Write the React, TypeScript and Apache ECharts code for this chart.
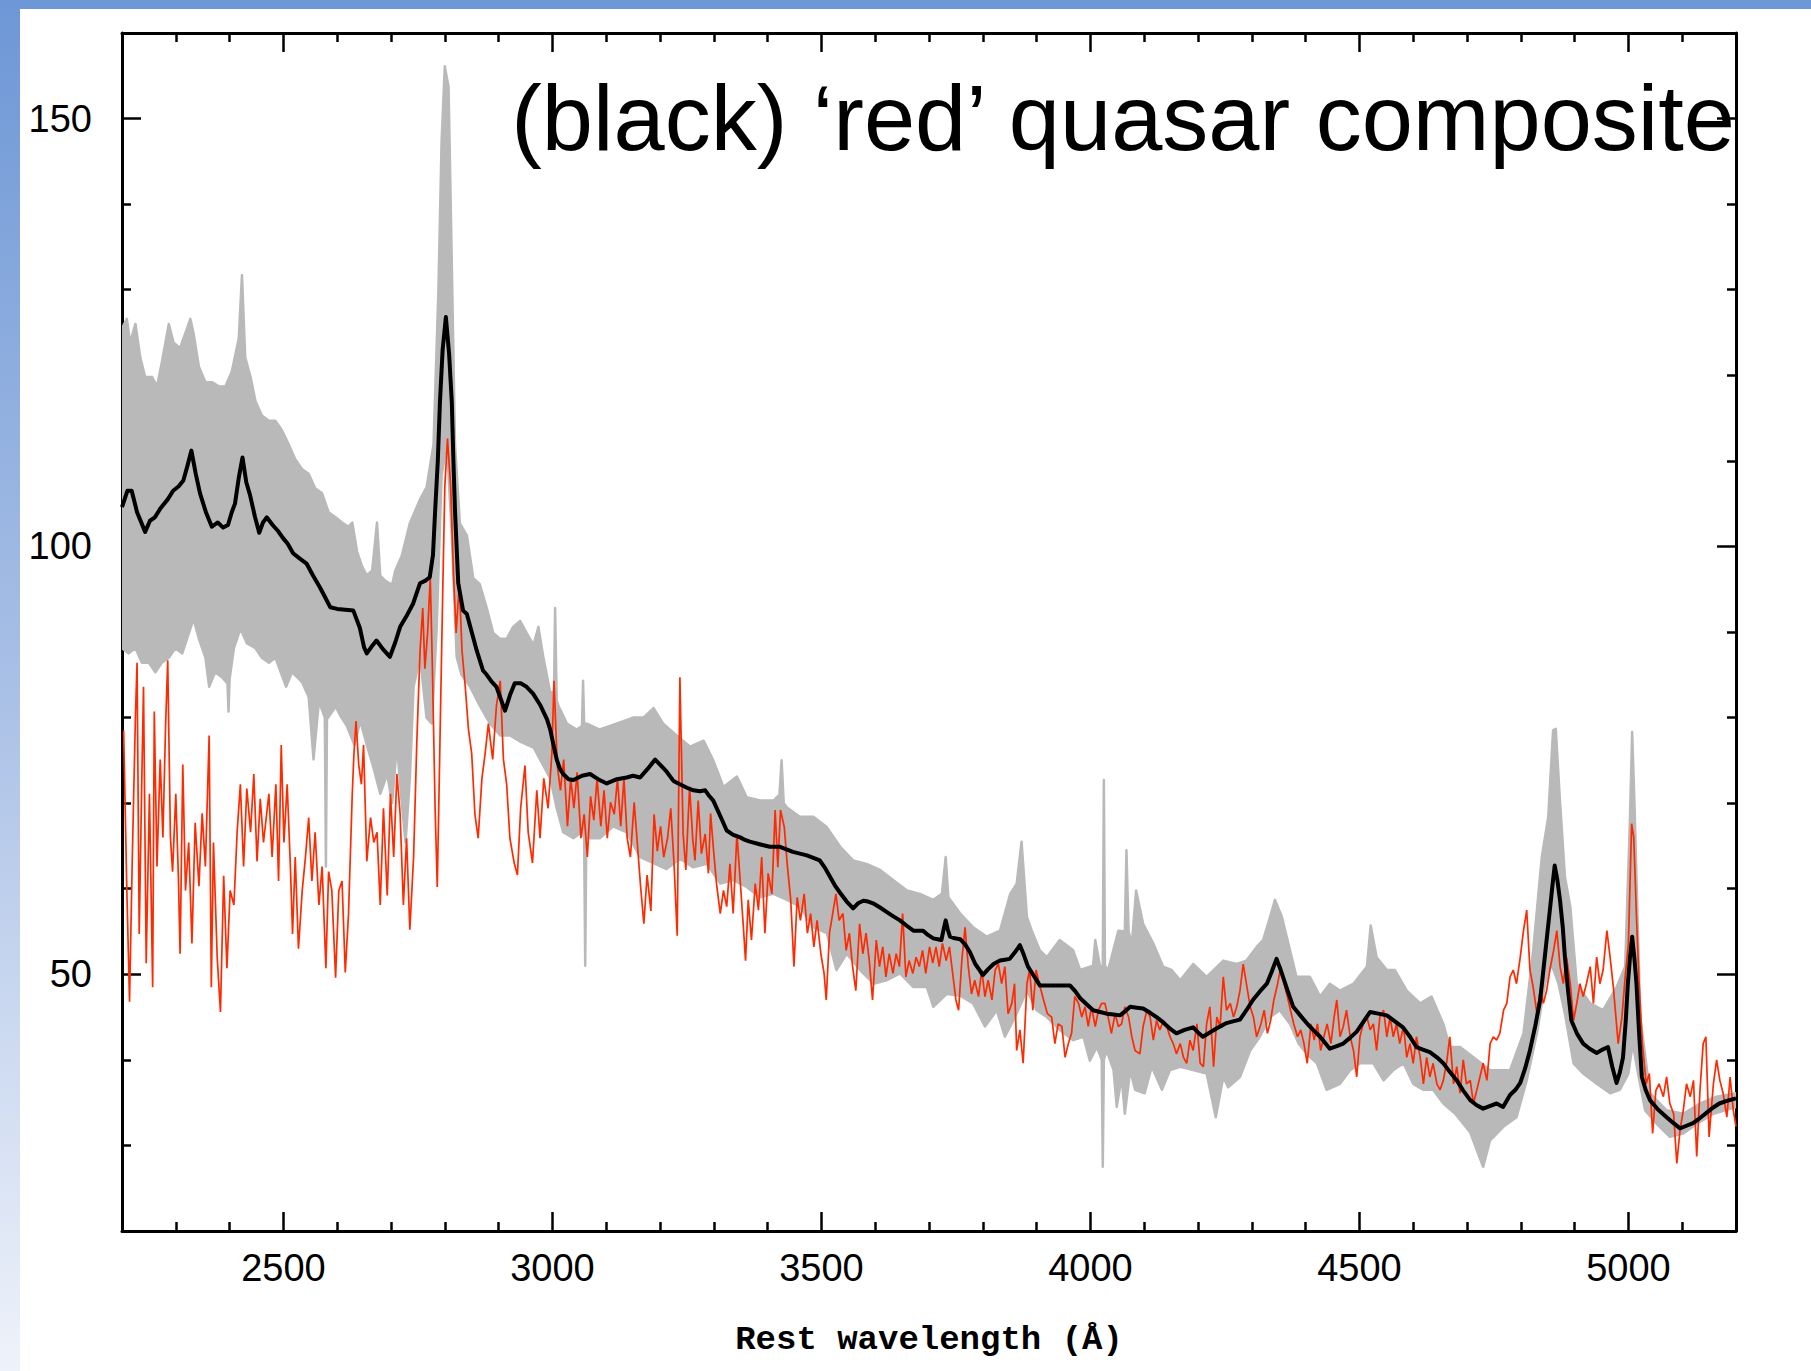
import React, { useEffect, useRef } from "react";
import * as echarts from "echarts";

// ---------- data (rest wavelength Å, flux) ----------
const xTickRange = [2200, 5200];
const yTickRange = [20, 160];

const titleText = "(black) \u2018red\u2019 quasar composite";
const xAxisTitle = "Rest wavelength (\u00C5)";

// black: composite spectrum
const compositeBlack: number[][] = [
  [2200,104.6],[2210,106.5],[2218,106.5],[2228,104],[2243,101.7],[2252,103],[2261,103.4],[2272,104.5],[2285,105.5],[2295,106.5],
  [2305,107],[2314,107.7],[2322,109.5],[2329,111.2],[2337,108.5],[2345,106.2],[2356,104],[2367,102.3],[2378,102.8],[2388,102.2],
  [2397,102.5],[2404,104],[2410,105],[2417,108],[2424,110.4],[2431,107.5],[2438,106],[2447,103.5],[2455,101.6],[2462,102.8],
  [2469,103.4],[2480,102.5],[2490,101.8],[2499,101],[2508,100.3],[2518,99.2],[2530,98.6],[2543,98],[2555,96.6],[2568,95.2],
  [2578,94],[2587,92.9],[2600,92.7],[2615,92.6],[2630,92.5],[2642,90.5],[2650,88.2],[2655,87.5],[2664,88.3],[2673,89],
  [2685,88],[2698,87.1],[2708,88.8],[2717,90.6],[2730,92],[2741,93.3],[2754,95.7],[2764,96],[2772,96.4],[2778,99],
  [2782,104.1],[2787,110],[2791,116.9],[2796,123],[2802,126.8],[2808,122.5],[2813,116.9],[2816,110],[2819,104.1],[2825,95.7],
  [2834,92.5],[2841,92.1],[2850,90],[2859,87.9],[2871,85.5],[2878,85],[2887,84.2],[2896,83.6],[2905,82],[2912,80.8],
  [2921,82.6],[2930,84],[2941,84],[2952,83.6],[2964,82.8],[2977,81.5],[2990,79.8],[2996,78.6],[3002,76.8],[3008,75.1],
  [3014,74],[3020,73.4],[3030,72.8],[3039,72.7],[3055,73.2],[3070,73.4],[3085,72.8],[3101,72.3],[3120,72.8],[3138,73],
  [3150,73.2],[3163,73],[3177,74],[3191,75.1],[3200,74.5],[3212,73.7],[3225,72.6],[3237,72.2],[3250,71.8],[3262,71.5],
  [3274,71.4],[3284,71.5],[3292,70.8],[3299,70.3],[3312,68.5],[3324,66.8],[3336,66.3],[3349,66],[3358,65.7],[3367,65.5],
  [3385,65.2],[3404,64.9],[3423,64.9],[3435,64.6],[3447,64.3],[3460,64.1],[3473,63.9],[3485,63.6],[3497,63.3],[3506,62.5],
  [3516,61.4],[3525,60.4],[3535,59.5],[3547,58.5],[3559,57.7],[3568,58.3],[3578,58.6],[3587,58.5],[3596,58.3],[3609,57.8],
  [3621,57.3],[3633,56.8],[3646,56.3],[3658,55.7],[3671,55.1],[3680,55.1],[3689,55.1],[3698,54.6],[3708,54.2],[3716,54.1],
  [3723,54],[3727,55.2],[3731,56.3],[3735,55.2],[3739,54.4],[3748,54.2],[3758,54.1],[3767,53.5],[3776,52.6],[3786,51.2],
  [3795,50.4],[3800,49.9],[3810,50.6],[3820,51.2],[3832,51.6],[3841,51.7],[3850,51.8],[3860,52.6],[3869,53.4],[3876,52.3],
  [3884,50.9],[3895,49.8],[3906,48.7],[3920,48.7],[3937,48.7],[3950,48.7],[3962,48.7],[3972,48],[3981,47.2],[3993,46.5],
  [4005,45.8],[4018,45.6],[4030,45.4],[4043,45.3],[4055,45.2],[4065,45.7],[4074,46.2],[4086,46.1],[4098,46],[4111,45.5],
  [4123,45],[4133,44.5],[4142,44],[4151,43.5],[4160,43.1],[4175,43.5],[4191,43.8],[4200,43.2],[4209,42.7],[4222,43.2],
  [4235,43.7],[4244,44],[4253,44.3],[4265,44.5],[4278,44.7],[4290,45.8],[4302,47],[4315,48],[4328,48.9],[4337,50.3],
  [4346,51.8],[4352,50.8],[4358,49.7],[4367,48],[4377,46.2],[4390,45.2],[4402,44.3],[4414,43.5],[4427,42.7],[4436,42],
  [4445,41.3],[4458,41.6],[4470,41.9],[4483,42.6],[4495,43.3],[4508,44.5],[4520,45.6],[4535,45.4],[4551,45.2],[4566,44.5],
  [4581,43.8],[4594,42.7],[4606,41.5],[4618,41.2],[4631,40.9],[4644,40.3],[4656,39.6],[4668,38.6],[4681,37.6],[4693,36.4],
  [4706,35.3],[4718,34.7],[4730,34.3],[4742,34.6],[4755,34.9],[4767,34.5],[4780,35.9],[4790,36.5],[4799,37.3],[4808,39],
  [4817,41.1],[4827,44],[4836,47],[4842,50.5],[4848,54],[4854,57.5],[4859,60.5],[4863,62.7],[4868,61],[4873,58.6],
  [4878,55.5],[4882,52],[4888,48],[4894,44.6],[4905,43],[4916,41.9],[4928,41.3],[4941,40.8],[4952,41.2],[4962,41.5],
  [4970,39.2],[4978,37.3],[4984,38.5],[4990,40.3],[4995,44.5],[4999,48.9],[5003,52],[5007,54.4],[5011,52],[5015,48.9],
  [5020,43],[5025,38],[5032,36.5],[5040,35.3],[5055,34.2],[5071,33.3],[5084,32.6],[5096,32],[5108,32.3],[5120,32.6],
  [5133,33.2],[5145,33.8],[5157,34.4],[5169,34.9],[5183,35.2],[5200,35.5]
];

// red: single red quasar spectrum
const redSpectrum: number[][] = [
  [2203,78.5],[2209,59.8],[2214,46.8],[2219,63.2],[2225,80.2],[2228,86.4],[2232,54.7],[2237,73.4],[2240,83.6],[2245,51.3],
  [2251,71.1],[2257,48.5],[2260,80.7],[2265,62.6],[2271,75.1],[2276,66],[2281,79],[2285,86.7],[2290,66],[2294,62],
  [2300,71.1],[2305,60.9],[2308,52.4],[2313,74.5],[2318,59.8],[2324,65.4],[2330,53.6],[2336,67.7],[2343,60.3],[2349,68.8],
  [2355,62.6],[2362,77.9],[2366,48.5],[2370,65.4],[2377,51.9],[2383,45.6],[2389,61.5],[2395,50.7],[2401,59.8],[2408,58.1],
  [2414,66.6],[2420,72.2],[2426,62.6],[2432,71.7],[2439,66.6],[2445,73.4],[2451,63.2],[2457,70.5],[2463,65.4],[2473,71.1],
  [2479,63.7],[2486,72.2],[2491,60.9],[2496,76.8],[2501,65.4],[2507,72.2],[2513,62.6],[2517,54.7],[2522,63.7],[2528,53],
  [2535,59.8],[2541,63.7],[2547,68.3],[2553,60.9],[2559,66.6],[2566,58.1],[2572,62.6],[2579,50.7],[2584,62],[2590,59.8],
  [2597,49.6],[2603,59.8],[2609,60.9],[2615,50.2],[2621,57],[2628,71.1],[2631,75.6],[2635,79.6],[2640,74.5],[2645,72.2],
  [2649,76.8],[2655,63.2],[2662,68.3],[2668,65.4],[2674,66.6],[2680,58.1],[2686,69.4],[2693,59.2],[2699,71.1],[2705,63.7],
  [2711,73.4],[2717,68.7],[2723,58.1],[2729,65.9],[2735,55.2],[2742,63.7],[2748,77.2],[2754,87.8],[2759,92.8],[2763,85.7],
  [2768,89.9],[2773,96.3],[2777,85.7],[2782,69.4],[2786,60.2],[2791,77.2],[2796,94.2],[2800,106.9],[2805,112.6],[2811,106.9],
  [2816,97],[2821,89.9],[2827,95.6],[2832,87.8],[2838,83.6],[2844,78.6],[2850,75.8],[2856,68.7],[2862,65.9],[2869,72.9],
  [2875,75.8],[2881,79.3],[2889,75.1],[2896,81.4],[2903,84.3],[2909,75.1],[2915,72.2],[2921,65.9],[2929,63],[2935,61.6],
  [2941,69.4],[2949,74.4],[2955,66.6],[2963,63],[2971,71.5],[2977,65.9],[2984,72.9],[2992,69.4],[2999,75.8],[3003,84.3],
  [3009,74.4],[3015,71.5],[3021,75.1],[3028,67.3],[3034,72.9],[3040,69.4],[3046,73.6],[3053,65.9],[3059,68.7],[3065,63.7],
  [3071,70.8],[3077,68],[3083,72.9],[3090,67.3],[3096,71.5],[3102,65.9],[3108,70.1],[3115,68.7],[3121,72.9],[3127,67.3],
  [3133,72.9],[3139,65.9],[3145,63.7],[3152,70.1],[3158,65.2],[3164,60.2],[3170,55.9],[3176,61.6],[3183,57.4],[3189,68.7],
  [3195,64.4],[3201,67.3],[3207,63.7],[3214,65.9],[3220,69.4],[3226,63],[3232,54.5],[3237,84.7],[3243,66.4],[3248,62.2],
  [3255,71.9],[3261,65.7],[3265,63.3],[3271,70.3],[3277,64.1],[3284,66.4],[3290,61.8],[3294,68.8],[3299,64.9],[3305,60.6],
  [3312,57.1],[3318,59.8],[3324,57.9],[3330,62.9],[3336,57.1],[3343,66.4],[3349,61],[3355,55.5],[3359,51.6],[3364,58.7],
  [3370,54],[3377,60.6],[3383,57.5],[3389,63.7],[3395,54.8],[3401,61.8],[3408,59.4],[3414,69.2],[3419,62.5],[3424,69.2],
  [3431,67.2],[3437,62.5],[3443,58.7],[3449,50.9],[3455,59],[3461,56.3],[3468,59.4],[3474,54.8],[3480,57.1],[3486,53.2],
  [3492,56.3],[3499,52.4],[3505,50.1],[3509,47],[3515,54.8],[3521,57.1],[3527,59.4],[3533,56.3],[3540,57.1],[3546,52.8],
  [3552,54.8],[3558,50.9],[3564,48.1],[3571,55.9],[3577,52.4],[3583,54.8],[3589,51.6],[3595,47],[3602,54],[3608,50.9],
  [3614,53.2],[3620,49.7],[3626,52.4],[3633,50.1],[3639,52.4],[3645,50.9],[3651,57.1],[3657,49.7],[3663,51.6],[3670,50.1],
  [3676,52],[3682,50.9],[3688,52.8],[3694,50.1],[3701,53.2],[3707,51.3],[3713,53.2],[3719,50.9],[3725,53.6],[3732,51.6],
  [3738,53.2],[3744,50.1],[3750,47],[3755,45.8],[3761,51.6],[3767,55.5],[3773,50.9],[3779,47.7],[3785,49.3],[3792,47.4],
  [3798,50.5],[3804,47.4],[3810,49.3],[3817,47],[3823,50.5],[3829,51.2],[3835,48.9],[3841,50.9],[3847,45.4],[3854,46.6],
  [3859,48.9],[3863,41.1],[3869,43.5],[3875,39.6],[3882,48.9],[3887,50.5],[3893,45.8],[3899,50.5],[3905,48.9],[3913,47],
  [3920,45.4],[3928,45],[3934,41.9],[3940,44.2],[3947,43.9],[3953,40.3],[3959,41.9],[3965,43.1],[3971,47.4],[3978,46.6],
  [3984,45],[3990,46.2],[3996,43.9],[4002,46.2],[4009,43.9],[4015,45.8],[4021,46.6],[4027,46.6],[4033,45],[4039,43.1],
  [4046,45.4],[4052,43.9],[4058,44.2],[4064,46.2],[4071,45],[4077,42.7],[4083,41.1],[4092,40.7],[4098,43.9],[4105,45.8],
  [4111,45],[4117,42.3],[4123,44.6],[4129,43.5],[4136,44.6],[4142,43.9],[4148,42.7],[4154,41.9],[4160,40.7],[4167,41.9],
  [4173,40.3],[4179,39.6],[4185,42.3],[4191,41.1],[4198,44.2],[4204,39.6],[4210,39.2],[4216,44.2],[4222,46.2],[4229,39.2],
  [4235,45],[4241,43.9],[4247,49.7],[4253,45.8],[4260,46.6],[4266,45],[4272,46.2],[4278,48.1],[4284,51.2],[4290,48.9],
  [4297,46.2],[4303,45],[4309,42.7],[4317,44.2],[4323,45.8],[4329,43.1],[4335,44.6],[4341,47],[4348,48.9],[4354,50.9],
  [4360,48.9],[4366,47.4],[4372,45.8],[4378,44.2],[4385,42.7],[4391,43.5],[4397,41.9],[4403,39.6],[4410,44.2],[4416,42.3],
  [4422,44.2],[4428,41.1],[4434,42.7],[4440,44.2],[4447,41.9],[4453,45],[4458,47],[4464,42.7],[4470,43.9],[4476,45.8],
  [4483,42.7],[4489,41.1],[4495,38],[4501,42.7],[4507,44.2],[4514,45],[4520,43.5],[4526,44.2],[4532,41.1],[4538,45],
  [4545,45.8],[4551,42.7],[4557,45],[4563,42.7],[4569,44.2],[4575,41.9],[4582,43.9],[4588,40.3],[4594,41.9],[4600,39.6],
  [4606,42.7],[4613,40.3],[4619,37.2],[4625,40.3],[4631,38],[4637,39.6],[4644,37.2],[4650,36.5],[4656,37.6],[4662,39.6],
  [4668,42.7],[4675,37.2],[4681,39.2],[4687,36.1],[4693,40],[4699,37.2],[4706,37.6],[4712,34.9],[4718,36.4],[4724,38],
  [4730,39.6],[4737,37.6],[4743,41.9],[4749,42.7],[4755,42.3],[4761,43.1],[4768,45.8],[4774,46.6],[4780,49.7],[4786,50.5],
  [4792,48.9],[4799,52],[4805,55.1],[4811,57.5],[4817,50.5],[4823,48.5],[4830,45.4],[4836,48.1],[4842,46.6],[4848,48.1],
  [4854,50.5],[4861,52.8],[4867,55.1],[4873,50.9],[4879,48.9],[4885,52],[4892,48.9],[4898,44.6],[4904,46.6],[4910,48.9],
  [4916,47.4],[4922,48.9],[4929,50.9],[4935,46.6],[4941,52],[4947,48.9],[4953,50.5],[4960,55.1],[4966,52],[4972,48.5],
  [4981,41.9],[4988,45],[4994,49.7],[5000,53.6],[5006,67.6],[5010,66],[5015,56.7],[5020,48.9],[5026,41.9],[5033,37.2],
  [5039,38.4],[5045,31.4],[5051,36.4],[5057,37.2],[5065,35.7],[5071,38],[5077,34.9],[5084,33.7],[5090,27.9],[5096,31.8],
  [5102,34.1],[5108,37.2],[5115,35.7],[5121,37.6],[5127,28.7],[5133,36.4],[5139,41.9],[5144,42.7],[5150,31],[5158,37.2],
  [5164,40],[5170,37.6],[5176,36.1],[5183,33.3],[5189,38],[5195,34.1],[5200,32.2]
];

// grey: envelope of the individual spectra (upper edge, lower edge)
const grayUpper: number[][] = [
  [2200,125.5],[2209,126.6],[2215,123.8],[2225,126],[2234,122.1],[2243,119.8],[2256,119.8],[2265,118.7],[2274,121.5],[2287,126],
  [2296,123.8],[2308,123.2],[2321,125.5],[2327,126.6],[2333,124.9],[2343,121],[2355,119.2],[2367,119.2],[2380,118.7],[2392,118.7],
  [2404,120.4],[2417,124.3],[2423,131.7],[2429,122.1],[2439,119.8],[2448,117],[2460,115.3],[2473,114.7],[2485,114.7],[2497,113.6],
  [2510,111.9],[2522,110.2],[2535,109],[2547,108.5],[2559,106.8],[2572,106.2],[2584,104],[2597,103.4],[2609,102.8],[2621,102.3],
  [2628,102.8],[2637,99.4],[2646,97.7],[2655,96.6],[2665,97.2],[2674,102.8],[2680,96.6],[2689,96],[2702,95.5],[2708,97.2],
  [2720,98.9],[2735,102.7],[2754,105.5],[2766,106.9],[2779,111.9],[2788,129.6],[2794,147.3],[2800,156.1],[2807,153.7],[2813,133.1],
  [2819,111.9],[2828,102.7],[2841,101.3],[2853,96.3],[2865,95.6],[2878,92.8],[2890,89.9],[2903,89.2],[2915,89.2],[2927,90.6],
  [2940,91.3],[2952,89.9],[2965,88.5],[2974,90.6],[2983,87.1],[2996,82.9],[3003,83],[3005,92.8],[3008,82],[3011,81.4],
  [3027,79.3],[3045,78.6],[3055,79],[3057,84.3],[3059,79.2],[3064,79.3],[3088,78.6],[3119,79.3],[3150,80],[3169,80],
  [3188,81.1],[3206,79.3],[3231,77.9],[3256,76.6],[3281,77.3],[3299,75],[3318,71.9],[3343,73.1],[3361,70.7],[3386,70.3],
  [3411,70.3],[3422,71],[3426,75],[3430,70],[3436,69.5],[3460,68.4],[3485,68.4],[3510,67.2],[3535,64.9],[3559,63.3],
  [3584,62.9],[3609,62.2],[3634,61],[3659,59.8],[3683,59.4],[3708,58.7],[3724,59.4],[3731,63.7],[3736,59],[3758,57.1],
  [3782,55.5],[3807,54.4],[3832,55.1],[3851,59.4],[3863,60.6],[3872,65.5],[3882,56.7],[3891,55.1],[3906,52.8],[3919,52],
  [3943,54],[3968,52.8],[3981,50.5],[4005,51],[4009,54],[4018,50.9],[4023,51],[4025,72.7],[4027,51],[4033,50.5],
  [4052,55.1],[4064,55],[4067,64.5],[4071,55],[4077,53.6],[4085,59.8],[4098,55.9],[4117,53.6],[4135,50.9],[4151,50.5],
  [4167,49.3],[4191,51.2],[4216,49.7],[4247,51.6],[4272,51.2],[4290,51.6],[4309,53.2],[4321,54],[4334,56.7],[4343,58.7],
  [4356,56.7],[4368,53.6],[4383,49.7],[4408,49.7],[4427,47.4],[4445,48.9],[4464,48.1],[4489,48.9],[4514,50.9],[4521,55.7],
  [4532,52],[4551,50.5],[4566,50.5],[4588,48.1],[4613,46.6],[4634,47.4],[4656,44.2],[4668,41.5],[4687,41.5],[4712,40.3],
  [4743,38.8],[4780,38.8],[4805,43.1],[4823,52.8],[4839,63.7],[4851,68.4],[4860,78.5],[4865,78.7],[4872,71.1],[4882,61.4],
  [4892,57.9],[4904,48.9],[4929,46.6],[4953,45.8],[4978,48.5],[4994,50.9],[5003,68.4],[5007,78.3],[5012,68.4],[5022,45],
  [5040,36.1],[5071,34.1],[5102,33.7],[5133,34.9],[5164,35.7],[5200,36.1]
];

const grayLower: number[][] = [
  [2200,88.1],[2212,87.5],[2225,88.1],[2237,86.4],[2250,86.4],[2262,85.3],[2274,86.4],[2287,87],[2299,88.1],[2312,87.5],
  [2324,89.8],[2333,91.5],[2343,89.2],[2355,87],[2362,83.6],[2373,85.3],[2386,84.7],[2396,84],[2398,80.7],[2400,84.5],
  [2408,88.1],[2420,90.4],[2432,88.7],[2448,88.1],[2460,87],[2473,86.4],[2485,87],[2505,83.6],[2516,85.3],[2535,84.1],
  [2547,82.4],[2556,75.1],[2566,81.9],[2577,80],[2579,62.6],[2581,79.8],[2597,81.3],[2606,80.2],[2618,79],[2632,76.8],
  [2643,79.6],[2655,76.8],[2668,74],[2680,71.1],[2693,73.4],[2702,70],[2711,76.8],[2720,70],[2727,65.4],[2735,72.8],
  [2742,83.6],[2754,87.1],[2766,80],[2776,79.3],[2785,90.6],[2794,108.3],[2804,111.9],[2813,101.3],[2822,87.1],[2831,85],
  [2847,83.6],[2865,81.4],[2884,79.3],[2903,77.9],[2921,77.9],[2940,77.2],[2965,76.5],[2983,74.4],[2996,72.9],[3008,69.4],
  [3020,66.6],[3039,65.9],[3054,66.6],[3059,66],[3061,51],[3063,66],[3067,65.9],[3088,65.9],[3113,67.3],[3138,66.6],
  [3163,63.7],[3188,63],[3212,62.3],[3237,63.5],[3262,62.5],[3287,62.9],[3312,60.6],[3336,61],[3361,60.2],[3386,59],
  [3411,59.4],[3436,58.7],[3460,57.9],[3485,55.5],[3510,54.8],[3528,50.5],[3547,52.4],[3572,50.5],[3597,48.9],[3621,49.3],
  [3646,50.1],[3671,48.5],[3696,48.5],[3708,46.2],[3733,47.7],[3758,47.5],[3782,46.6],[3804,43.9],[3826,45.8],[3841,42.7],
  [3860,45],[3882,48.1],[3900,45.8],[3919,45],[3943,43.5],[3968,42.3],[3987,42.7],[3999,39.9],[4012,41.5],[4021,40],
  [4023,27.5],[4025,40],[4030,41.1],[4043,38.8],[4049,34.5],[4058,38],[4064,33.7],[4074,38.8],[4083,36.5],[4101,36.1],
  [4114,39.2],[4133,36.5],[4148,38.8],[4167,39.2],[4191,38.8],[4216,38.4],[4233,33.3],[4247,38],[4256,36.8],[4278,38],
  [4297,41.1],[4315,42.7],[4334,45],[4352,45.8],[4371,44.2],[4387,41.9],[4402,40.7],[4421,39.6],[4439,36.5],[4464,37.2],
  [4483,38.8],[4501,39.6],[4526,39.6],[4545,37.6],[4563,38.8],[4582,39.6],[4600,37.2],[4619,36.5],[4637,36.5],[4656,34.9],
  [4678,33.7],[4706,31.5],[4730,27.5],[4743,30.6],[4768,32.2],[4792,33.3],[4811,37.6],[4830,43.1],[4845,48.9],[4857,51.2],
  [4870,48.9],[4882,45.4],[4898,39.6],[4916,38.4],[4941,37.2],[4966,36.1],[4984,36.5],[5000,38.4],[5008,41.9],[5018,38.4],
  [5031,34.1],[5053,32.5],[5077,31],[5102,31.4],[5127,32.5],[5158,33.7],[5200,34.5]
];

// ---------- styling ----------
const W = 1811;
const H = 1371;
const GRAY = "#b9b9b9";
const RED = "#ff2a00";
const BLUE = "#6d97d6";
const LABEL_FONT = "'Liberation Sans', Arial, sans-serif";

export default function App() {
  const ref = useRef<HTMLDivElement>(null);

  useEffect(() => {
    if (!ref.current) return;
    const chart = echarts.init(ref.current, undefined, { renderer: "svg" });

    const tickStyle = { color: "#000", width: 2.5 };
    const plain = (v: number) => String(v);
    const baseX = {
      type: "value",
      min: xTickRange[0],
      max: xTickRange[1],
      splitNumber: 6,
      axisLine: { show: true, onZero: false, lineStyle: { color: "#000", width: 3 } },
      axisTick: { show: true, inside: true, length: 19, lineStyle: tickStyle },
      minorTick: { show: true, splitNumber: 5, length: 9, lineStyle: tickStyle },
      splitLine: { show: false },
      minorSplitLine: { show: false },
    };
    const baseY = {
      type: "value",
      min: yTickRange[0],
      max: yTickRange[1],
      splitNumber: 3,
      axisLine: { show: true, onZero: false, lineStyle: { color: "#000", width: 3 } },
      axisTick: { show: true, inside: true, length: 19, lineStyle: tickStyle },
      minorTick: { show: true, splitNumber: 5, length: 9, lineStyle: tickStyle },
      splitLine: { show: false },
      minorSplitLine: { show: false },
    };

    chart.setOption({
      animation: false,
      backgroundColor: "#ffffff",
      grid: { left: 122, top: 33, width: 1614, height: 1198, containLabel: false },
      xAxis: [
        {
          ...baseX,
          position: "bottom",
          axisLabel: {
            show: true,
            showMinLabel: false,
            showMaxLabel: false,
            formatter: plain,
            color: "#000",
            fontSize: 38,
            fontFamily: LABEL_FONT,
            margin: 18,
          },
          name: xAxisTitle,
          nameLocation: "middle",
          nameGap: 92,
          nameTextStyle: {
            color: "#000",
            fontSize: 34,
            fontWeight: "bold",
            fontFamily: "'Liberation Mono', 'DejaVu Sans Mono', monospace",
          },
        },
        { ...baseX, position: "top", axisLabel: { show: false } },
      ],
      yAxis: [
        {
          ...baseY,
          position: "left",
          axisLabel: {
            show: true,
            showMinLabel: false,
            showMaxLabel: false,
            formatter: plain,
            color: "#000",
            fontSize: 38,
            fontFamily: LABEL_FONT,
            margin: 30,
          },
        },
        { ...baseY, position: "right", axisLabel: { show: false } },
      ],
      graphic: [
        { type: "rect", z: -10, shape: { x: 0, y: 0, width: W, height: 9 }, style: { fill: BLUE } },
        {
          type: "rect",
          z: -10,
          shape: { x: 0, y: 0, width: 20, height: H },
          style: {
            fill: new echarts.graphic.LinearGradient(0, 0, 0, 1, [
              { offset: 0, color: "#6d97d6" },
              { offset: 0.5, color: "#a9c0e6" },
              { offset: 1, color: "#eef2fa" },
            ]),
          },
        },
        {
          type: "text",
          z: 100,
          x: 1735,
          y: 118,
          style: {
            text: titleText,
            fill: "#000",
            font: "92px 'Liberation Sans', Arial, sans-serif",
            align: "right",
            verticalAlign: "middle",
          },
        },
      ],
      series: [
        {
          type: "custom",
          name: "individual spectra",
          xAxisIndex: 0,
          yAxisIndex: 0,
          silent: true,
          clip: true,
          z: 1,
          data: [grayUpper[0]],
          renderItem: (_params: any, api: any) => {
            const pts = grayUpper
              .map((p) => api.coord(p))
              .concat(grayLower.slice().reverse().map((p) => api.coord(p)));
            return {
              type: "polygon",
              shape: { points: pts },
              style: { fill: GRAY, stroke: GRAY, lineWidth: 2.5, lineJoin: "round" },
            };
          },
        },
        {
          type: "line",
          name: "red quasar",
          xAxisIndex: 0,
          yAxisIndex: 0,
          data: redSpectrum,
          showSymbol: false,
          symbol: "none",
          silent: true,
          z: 3,
          lineStyle: { color: RED, width: 1.7 },
        },
        {
          type: "line",
          name: "composite",
          xAxisIndex: 0,
          yAxisIndex: 0,
          data: compositeBlack,
          showSymbol: false,
          symbol: "none",
          silent: true,
          z: 4,
          lineStyle: { color: "#000", width: 4, join: "round" },
        },
      ],
    });

    return () => chart.dispose();
  }, []);

  return (
    <div
      ref={ref}
      style={{ position: "fixed", left: 0, top: 0, width: W, height: H, background: "#fff" }}
    />
  );
}
